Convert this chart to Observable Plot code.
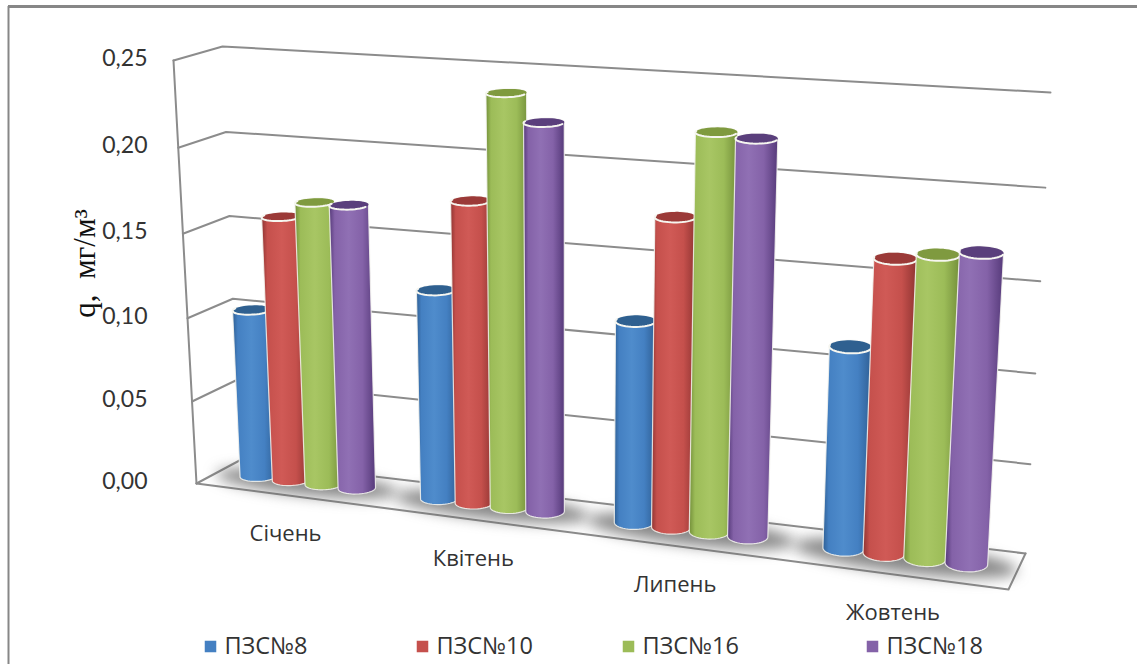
<!DOCTYPE html>
<html lang="uk">
<head>
<meta charset="utf-8">
<title>q, мг/м³</title>
<script src="https://cdn.jsdelivr.net/npm/d3@7"></script>
<script src="https://cdn.jsdelivr.net/npm/@observablehq/plot@0.6"></script>
<style>
  html, body { margin: 0; padding: 0; background: #fff; overflow: hidden; }
  svg { display: block; }
  .floor-shadow { filter: blur(7px); }
</style>
</head>
<body>
<div id="chart"></div>
<script>
// Monthly concentrations per sampling point
const months = ["Січень", "Квітень", "Липень", "Жовтень"];
const stations = ["ПЗС№8", "ПЗС№10", "ПЗС№16", "ПЗС№18"];
const station8 = [0.101, 0.123, 0.116, 0.113];
const station10 = [0.158, 0.176, 0.176, 0.163];
const station16 = [0.168, 0.238, 0.224, 0.167];
const station18 = [0.168, 0.223, 0.222, 0.170];
const seriesValues = [station8, station10, station16, station18];
const valueTicks = [0, 0.05, 0.1, 0.15, 0.2, 0.25];
const valueMax = 0.25;

// Cylinder palette: body, shaded edge, lit centre, cap
const bodyColors = ["#4480c2", "#c5504c", "#9cbc58", "#8462a8"];
const edgeColors = ["#2f5f94", "#8f3432", "#738f3a", "#563a7a"];
const lightColors = ["#4f8ccc", "#d05a56", "#a8c664", "#9070b4"];
const capColors = ["#2f6090", "#9b3a38", "#7f9a3f", "#5a3f7c"];

// Perspective box holding the chart: corners of the floor and of the top plane
const box = {
  floor: {fl: [196, 483], fr: [1008, 589], bl: [239, 460], br: [1025, 553]},
  top: {fl: [173, 60], fr: [1034, 116], bl: [222, 46], br: [1050, 92]}
};
const warp = (t, r) => t / (r - (r - 1) * t);
const mix = (a, b, t) => [a[0] + (b[0] - a[0]) * t, a[1] + (b[1] - a[1]) * t];

// u runs along the months, w from the front of the floor to the back wall
function project(u, w, value) {
  const tu = warp(u, 1.16);
  const tv = warp(value / valueMax, 1.04);
  const plane = (p) => mix(mix(p.fl, p.fr, tu), mix(p.bl, p.br, tu), w);
  return mix(plane(box.floor), plane(box.top), tv);
}

const barStep = 0.046;
const barRadius = barStep / 2;
const barDepth = 0.54;
const depthRadius = 0.22;
const ringAngles = d3.range(0, 361, 8).map((d) => (d * Math.PI) / 180);
const barU = (m, s) => (m + 0.5) / months.length + (s - 1.5) * barStep;
const ring = (u, value, angles = ringAngles) =>
  angles.map((a) => project(u + barRadius * Math.cos(a), barDepth + depthRadius * Math.sin(a), value));

const px = {x: (d) => d[0], y: (d) => d[1]};
const marks = [];

// Gradients for the rounded shading of the cylinder bodies
marks.push(() => {
  const defs = d3.create("svg:defs");
  stations.forEach((_, s) => {
    const g = defs.append("linearGradient").attr("id", `body-${s}`);
    [[0, edgeColors[s]], [0.12, bodyColors[s]], [0.42, lightColors[s]], [0.72, bodyColors[s]], [1, edgeColors[s]]]
      .forEach(([o, c]) => g.append("stop").attr("offset", o).attr("stop-color", c));
  });
  return defs.node();
});

// Sheet border
marks.push(Plot.ruleY([6], {x1: 8, x2: 1137, stroke: "#878787", strokeWidth: 3}));
marks.push(Plot.ruleX([8], {y1: 6, y2: 664, stroke: "#878787", strokeWidth: 2}));

// Walls: one polyline per tick value
const gridStyle = {...px, stroke: "#8c8c8c", strokeWidth: 2};
valueTicks.forEach((v) => {
  marks.push(Plot.line([project(0, 0, v), project(0, 1, v), project(1, 1, v)], gridStyle));
});
marks.push(Plot.line([project(0, 0, 0), project(0, 0, valueMax)], gridStyle));
// Floor outline
marks.push(Plot.line([project(0, 0, 0), project(1, 0, 0), project(1, 1, 0)], gridStyle));

// Soft shadow under each month's group
months.forEach((_, m) => {
  const c = (m + 0.5) / months.length;
  const outline = ringAngles.map((a) => project(c + 0.125 * Math.cos(a), 0.5 + 0.42 * Math.sin(a), 0));
  marks.push(Plot.line(outline, {...px, stroke: "none", fill: "#5a5a5a", fillOpacity: 0.72, className: "floor-shadow"}));
});

// Cylinders, back to front within a month
months.forEach((_, m) => {
  stations.forEach((_, s) => {
    const u = barU(m, s);
    const value = seriesValues[s][m];
    const hull = d3.polygonHull([...ring(u, 0), ...ring(u, value)]);
    marks.push(Plot.line([...hull, hull[0]], {...px, fill: `url(#body-${s})`, stroke: "#f4f4f0", strokeWidth: 1.2, strokeOpacity: 0.85}));
    marks.push(Plot.line(ring(u, value), {...px, fill: capColors[s], stroke: "none"}));
    const frontArc = d3.range(180, 361, 8).map((d) => (d * Math.PI) / 180);
    marks.push(Plot.line(ring(u, value, frontArc), {...px, stroke: "#f6f6f0", strokeWidth: 2}));
  });
});

// Value labels follow the front edge of the wall
const tickFormat = (v) => d3.format(".2f")(v).replace(".", ",");
marks.push(Plot.text(valueTicks, {
  x: () => 147,
  y: (v) => project(0, 0, v)[1] - 2,
  text: tickFormat,
  textAnchor: "end",
  fontFamily: "Lato, 'Open Sans', sans-serif",
  fontSize: 23,
  fill: "#333"
}));

// Month labels sit a fixed distance below the front edge of the floor
marks.push(Plot.text(months, {
  x: (_, i) => project((i + 0.5) / months.length, 0, 0)[0],
  y: (_, i) => project((i + 0.5) / months.length, 0, 0)[1] + 39,
  text: (d) => d,
  fontFamily: "'Open Sans', sans-serif",
  fontSize: 22,
  fill: "#333"
}));

// Axis title
marks.push(Plot.text(["q,  мг/м³"], {
  x: () => 85,
  y: () => 263,
  text: (d) => d,
  rotate: -90,
  fontFamily: "'Liberation Serif', serif",
  fontSize: 31,
  fill: "#111"
}));

// Legend
const legendX = [204, 416, 622, 866];
marks.push(Plot.dot(stations, {
  x: (_, i) => legendX[i] + 6,
  y: () => 646,
  symbol: "square",
  r: 6.5,
  fill: (_, i) => bodyColors[i],
  stroke: "none"
}));
marks.push(Plot.text(stations, {
  x: (_, i) => legendX[i] + 20,
  y: () => 646,
  text: (d) => d,
  textAnchor: "start",
  fontFamily: "'Open Sans', sans-serif",
  fontSize: 23.5,
  fill: "#333"
}));

const chart = Plot.plot({
  width: 1137,
  height: 667,
  margin: 0,
  x: {type: "linear", domain: [0, 1137], range: [0, 1137], axis: null},
  y: {type: "linear", domain: [0, 667], range: [0, 667], axis: null},
  color: {type: "identity"},
  style: {background: "#fff"},
  marks
});
document.getElementById("chart").append(chart);
</script>
</body>
</html>
